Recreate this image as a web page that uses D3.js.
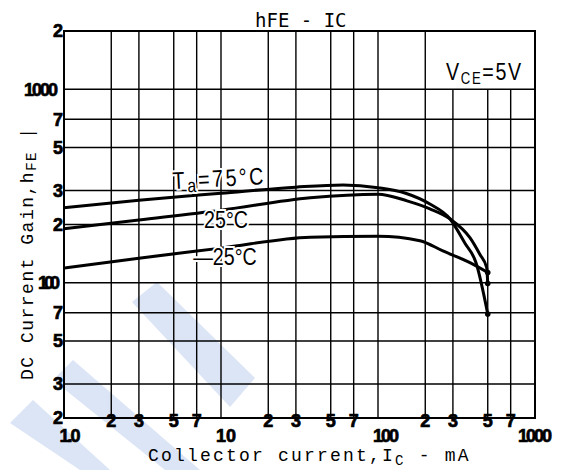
<!DOCTYPE html>
<html>
<head>
<meta charset="utf-8">
<script src="https://cdn.jsdelivr.net/npm/d3@7"></script>
<style>
body { margin: 0; background: #fff; }
svg { display: block; }
.grid { stroke: #000; stroke-width: 1.4; }
.frame { fill: none; stroke: #000; stroke-width: 2; }
.curve { fill: none; stroke: #000; stroke-width: 3; stroke-linejoin: round; }
.tick { font-family: "Liberation Sans", Arial, sans-serif; font-weight: bold; font-size: 18px; fill: #000;
        stroke: #000; stroke-width: 0.7px; }
.axlabel { font-family: "Liberation Mono", "Courier New", monospace; font-size: 18px; fill: #000; }
.note { font-family: "Liberation Sans", Arial, sans-serif; font-size: 24px; fill: #000;
        stroke: #fff; stroke-width: 4px; paint-order: stroke; }
</style>
</head>
<body>
<svg width="565" height="470"></svg>
<script>
// grid values
const xGrid = [2, 3, 5, 7, 10, 20, 30, 50, 70, 100, 200, 300, 500, 700]
const yGrid = [30, 50, 70, 100, 200, 300, 500, 700, 1000]

// tick labels
const xTickValues = [1, 2, 3, 5, 7, 10, 20, 30, 50, 70, 100, 200, 300, 500, 700, 1000]
const xTickText = ["1.0", "2", "3", "5", "7", "10", "2", "3", "5", "7", "100", "2", "3", "5", "7", "1000"]
const yTickValues = [20, 30, 50, 70, 100, 200, 300, 500, 700, 1000, 2000]
const yTickText = ["2", "3", "5", "7", "100", "2", "3", "5", "7", "1000", "2"]

// curves: collector current (mA) and hFE
const icT75 = [1, 3, 10, 30, 60, 100, 150, 214, 287, 358, 421, 500]
const hfeT75 = [244, 267, 290, 312, 320, 310, 290, 255, 214, 160, 127, 69]
const icT25 = [1, 3, 10, 37, 100, 153, 214, 287, 385, 446, 492, 500]
const hfeT25 = [190, 211, 237, 275, 287, 265, 241, 214, 171, 140, 120, 99]
const icTm25 = [1, 3, 10, 37, 100, 185, 259, 385, 500]
const hfeTm25 = [119, 134, 151, 172, 174, 165, 146, 127, 113]

const svg = d3.select("svg")

const x = d3.scaleLog().domain([1, 1000]).range([64, 535])
const y = d3.scaleLog().domain([20, 2000]).range([418, 31])

const decades = [1, 10, 100, 1000]

// watermark
const wm = svg.append("g").attr("fill", "#dce5f5")
;[
  [[132, 302], [157, 282], [255, 378], [230, 407]],
  [[53, 380], [73, 360], [200, 470], [165, 470]],
  [[10, 423], [33, 400], [110, 470], [80, 470]]
].forEach(p => wm.append("polygon").attr("points", p.join(" ")))

// grid
svg.append("g")
  .selectAll("line")
  .data(xGrid)
  .enter()
  .append("line")
  .attr("class", "grid")
  .attr("x1", d => x(d)).attr("x2", d => x(d))
  .attr("y1", d => d >= 300 ? y(1000) : y(2000))
  .attr("y2", y(20))

svg.append("g")
  .selectAll("line")
  .data(yGrid)
  .enter()
  .append("line")
  .attr("class", "grid")
  .attr("x1", x(1)).attr("x2", x(1000))
  .attr("y1", d => y(d)).attr("y2", d => y(d))

svg.append("rect")
  .attr("class", "frame")
  .attr("x", x(1)).attr("y", y(2000))
  .attr("width", x(1000) - x(1))
  .attr("height", y(20) - y(2000))

// tick labels
svg.append("g")
  .selectAll("text")
  .data(xTickValues)
  .enter()
  .append("text")
  .attr("class", "tick")
  .attr("x", d => x(d) + (d == 1 || d == 10 ? 5 : d == 100 ? 7 : d == 1000 ? -1 : 0))
  .attr("y", d => decades.includes(d) ? 442 : 427)
  .attr("text-anchor", "middle")
  .attr("letter-spacing", (d, i) => xTickText[i].length > 2 ? -2 : 0)
  .text((d, i) => xTickText[i])

svg.append("g")
  .selectAll("text")
  .data(yTickValues)
  .enter()
  .append("text")
  .attr("class", "tick")
  .attr("x", (d, i) => yTickText[i].length > 1 ? 56 : 63)
  .attr("y", d => y(d))
  .attr("dy", "0.36em")
  .attr("text-anchor", "end")
  .attr("letter-spacing", (d, i) => yTickText[i] == "100" ? -4 : yTickText[i].length > 1 ? -2 : 0)
  .text((d, i) => yTickText[i])

// curves
const line = d3.line()
  .x(d => x(d[0]))
  .y(d => y(d[1]))
  .curve(d3.curveMonotoneX)

const series = [
  [icT75, hfeT75],
  [icT25, hfeT25],
  [icTm25, hfeTm25]
]

series.forEach(s => {
  const pts = s[0].map((c, i) => [c, s[1][i]])
  svg.append("path")
    .datum(pts)
    .attr("class", "curve")
    .attr("d", line)
  const last = pts[pts.length - 1]
  svg.append("circle")
    .attr("cx", x(last[0]))
    .attr("cy", y(last[1]))
    .attr("r", 2.8)
})

// curve labels (condensed by scaling)
svg.append("text")
  .attr("class", "note")
  .attr("transform", "translate(173,189) rotate(-3) scale(0.82,1)")
  .attr("letter-spacing", 3)
  .call(t => {
    t.append("tspan").text("T")
    t.append("tspan").attr("font-size", 19).attr("dy", 4).text("a")
    t.append("tspan").attr("dy", -4).text("=75°C")
  })

svg.append("text")
  .attr("class", "note")
  .attr("transform", "translate(226,228) scale(0.82,1)")
  .attr("text-anchor", "middle")
  .text("25°C")

svg.append("text")
  .attr("class", "note")
  .attr("transform", "translate(225,265) scale(0.82,1)")
  .attr("text-anchor", "middle")
  .text("—25°C")

svg.append("text")
  .attr("class", "note")
  .attr("transform", "translate(446,80) scale(0.82,1)")
  .attr("letter-spacing", 2)
  .call(t => {
    t.append("tspan").text("V")
    t.append("tspan").attr("font-size", 16).attr("dy", 4).text("CE")
    t.append("tspan").attr("dy", -4).text("=5V")
  })

// title
svg.append("text")
  .attr("x", 255).attr("y", 27)
  .attr("font-family", "DejaVu Sans Mono, monospace")
  .attr("font-size", 19)
  .text("hFE - IC")

// axis labels
svg.append("text")
  .attr("class", "axlabel")
  .attr("letter-spacing", 2.2)
  .attr("x", 148).attr("y", 461)
  .call(t => {
    t.append("tspan").text("Collector current,I")
    t.append("tspan").attr("font-size", 14).attr("dy", 4).text("C")
    t.append("tspan").attr("dy", -4).text(" - mA")
  })

svg.append("text")
  .attr("class", "axlabel")
  .attr("letter-spacing", 1.5)
  .attr("transform", "translate(33,380) rotate(-90)")
  .call(t => {
    t.append("tspan").text("DC Current Gain,h")
    t.append("tspan").attr("font-size", 14).attr("dy", 3).text("FE")
    t.append("tspan").attr("dy", -3).text(" |")
  })
</script>
</body>
</html>
